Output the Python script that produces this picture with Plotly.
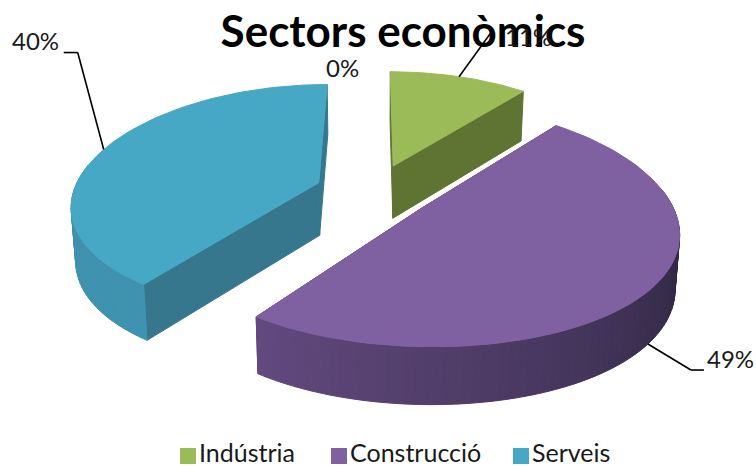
import math
import plotly.graph_objects as go

# Data
categories = ["Indústria", "Construcció", "Serveis", ""]
values = [11, 49, 40, 0]
labels = ["11%", "49%", "40%", "0%"]

# Style
top_colors = {"Indústria": "#9BBB59", "Construcció": "#7F60A0", "Serveis": "#46A8C4"}
radial_colors = {"Indústria": "#5F7432", "Construcció": "#4C3B66", "Serveis": "#36778D"}
arc_colors = {"Indústria": ("#5F7432", "#5F7432"),
              "Construcció": ("#2E2640", "#62497E"),
              "Serveis": ("#3F93B0", "#3F8CA6")}
FONT = "Lato"
TXT = "#1a1a1a"

# Projection of the tilted pie on to the page
CX, CY, A, B, KX, KY, EXPLODE, DEPTH, BOTTOM_SHRINK = 374, 191, 245, 114, 0.18, 0.14, 0.24, 53, 0.985
VISIBLE_FROM = 1.75


def project(x, y, bottom=False):
    wx = 1 + KX * y
    wy = 1 + KY * y
    sx = A * x / wx
    sy = CY - B * y / wy
    if bottom:
        return CX + sx * BOTTOM_SHRINK, sy + DEPTH / math.sqrt(wy)
    return CX + sx, sy


def rim(mid, theta, bottom=False):
    ex, ey = EXPLODE * math.sin(mid), EXPLODE * math.cos(mid)
    return project(ex + math.sin(theta), ey + math.cos(theta), bottom)


def apex(mid, bottom=False):
    return project(EXPLODE * math.sin(mid), EXPLODE * math.cos(mid), bottom)


def lerp(c1, c2, t):
    a = [int(c1[i:i + 2], 16) for i in (1, 3, 5)]
    b = [int(c2[i:i + 2], 16) for i in (1, 3, 5)]
    return "#%02x%02x%02x" % tuple(round(p + (q - p) * t) for p, q in zip(a, b))


def poly(fig, pts, color):
    fig.add_trace(go.Scatter(x=[p[0] for p in pts] + [pts[0][0]], y=[p[1] for p in pts] + [pts[0][1]],
                             mode="lines", fill="toself", fillcolor=color,
                             line=dict(color=color, width=1),
                             hoverinfo="skip", showlegend=False))


fig = go.Figure()
total = sum(values)
start = 0.0
anchors = {}
for cat, val, lab in zip(categories, values, labels):
    t0 = start / total * 2 * math.pi
    t1 = (start + val) / total * 2 * math.pi
    start += val
    mid = (t0 + t1) / 2
    # the purple slice's leader starts on the wall's lower part
    anchors[lab] = rim(mid, mid, lab == "49%")
    if val == 0:
        continue
    # radial walls
    for t in (t0, t1):
        poly(fig, [apex(mid), rim(mid, t), rim(mid, t, True), apex(mid, True)], radial_colors[cat])
    # outer wall, shaded
    n = max(6, int(val * 2))
    c0, c1 = arc_colors[cat]
    v0 = max(t0, VISIBLE_FROM)
    for i in range(n):
        a = t0 + (t1 - t0) * i / n
        b = t0 + (t1 - t0) * (i + 1) / n
        m = (a + b) / 2
        if math.cos(m) > 0.15:
            continue
        frac = min(1, max(0, (m - v0) / (t1 - v0)))
        poly(fig, [rim(mid, a), rim(mid, b), rim(mid, b, True), rim(mid, a, True)], lerp(c0, c1, frac))
    # top face
    arc = [rim(mid, t0 + (t1 - t0) * i / 80) for i in range(81)]
    poly(fig, [apex(mid)] + arc, top_colors[cat])

# Legend keys, placed like the reference's (close swatch-to-text gap)
LEGEND_X = [188, 339, 521]
LEGEND_Y = 456
for cat, lx in zip(categories[:3], LEGEND_X):
    fig.add_trace(go.Scatter(x=[lx], y=[LEGEND_Y], mode="markers+text", name=cat, text=[cat],
                             textposition="middle right", cliponaxis=False,
                             textfont=dict(family=FONT, size=25, color=TXT),
                             marker=dict(symbol="square", size=16, color=top_colors[cat]),
                             hoverinfo="skip", showlegend=False))

# Leader lines (steps from the slice rim) and data labels
leader = {"11%": [(34, -47)], "49%": [(43, 26), (13, 0)], "40%": [(-26, -97), (-14, 0)]}
label_pos = {"11%": (528, 36), "49%": (730, 358), "40%": (35, 40), "0%": (342, 67)}
shapes = []
for lab, steps in leader.items():
    x0, y0 = anchors[lab]
    for dx, dy in steps:
        x1, y1 = x0 + dx, y0 + dy
        shapes.append(dict(type="line", xref="x", yref="y", x0=x0, y0=y0, x1=x1, y1=y1,
                           line=dict(color="#000000", width=1.6)))
        x0, y0 = x1, y1
annotations = [dict(x=label_pos[lab][0], y=label_pos[lab][1], xref="x", yref="y", text=lab, showarrow=False,
                    font=dict(family=FONT, size=24, color=TXT)) for lab in labels]

fig.update_layout(
    width=756, height=466, margin=dict(l=0, r=0, t=0, b=0, autoexpand=False),
    paper_bgcolor="white", plot_bgcolor="white", showlegend=False,
    title=dict(text="<b>Sectors econòmics</b>", x=403 / 756, xanchor="center", xref="paper",
               y=1 - 32 / 466, yanchor="middle", yref="container",
               font=dict(family=FONT, size=44, color="#000000")),
    xaxis=dict(range=[0, 756], visible=False, fixedrange=True),
    yaxis=dict(range=[466, 0], visible=False, fixedrange=True),
    shapes=shapes, annotations=annotations,
)
fig.write_html("out.html", config={"displayModeBar": False},
               post_script="document.body.style.margin='0';document.documentElement.style.overflow='hidden';window.dispatchEvent(new Event('resize'));")
